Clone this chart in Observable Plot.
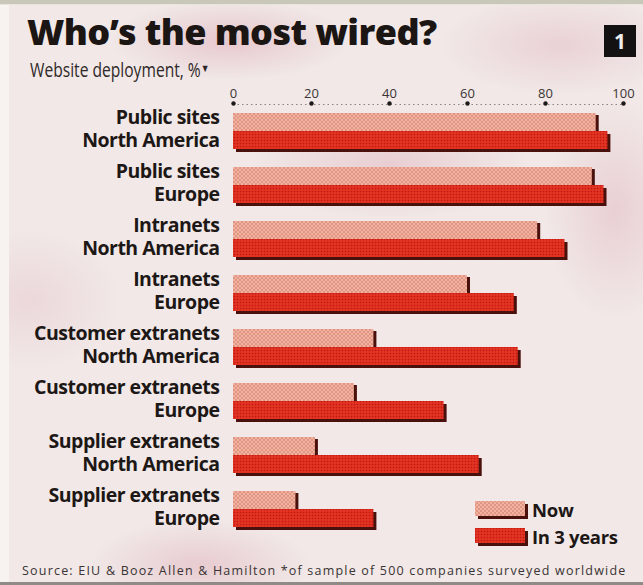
<!DOCTYPE html>
<html>
<head>
<meta charset="utf-8">
<script src="https://cdn.jsdelivr.net/npm/d3@7"></script>
<script src="https://cdn.jsdelivr.net/npm/@observablehq/plot@0.6"></script>
<style>
  html, body { margin: 0; padding: 0; }
  body { width: 643px; height: 585px; overflow: hidden; }
  #page {
    position: relative; width: 643px; height: 585px; overflow: hidden;
    background-color: #f1e8e7;
    background-image:
      radial-gradient(ellipse 120px 40px at 230px 40px, rgba(214,150,165,0.40), rgba(214,150,165,0) 100%),
      radial-gradient(ellipse 140px 55px at 390px 165px, rgba(214,150,165,0.32), rgba(214,150,165,0) 100%),
      radial-gradient(ellipse 70px 110px at 615px 210px, rgba(214,150,165,0.30), rgba(214,150,165,0) 100%),
      radial-gradient(ellipse 110px 45px at 200px 565px, rgba(214,150,165,0.35), rgba(214,150,165,0) 100%),
      radial-gradient(ellipse 90px 70px at 30px 300px, rgba(214,150,165,0.20), rgba(214,150,165,0) 100%),
      radial-gradient(ellipse 120px 50px at 560px 45px, rgba(214,150,165,0.28), rgba(214,150,165,0) 100%);
    font-family: "Open Sans", sans-serif;
  }
  #topstrip { position: absolute; left: 0; top: 0; width: 643px; height: 4px; background: #c9c8b8; border-bottom: 1px solid #e8e6dc; }
  #leftstrip { position: absolute; left: 0; top: 5px; width: 9px; height: 580px; background: #f6f3f1; }
  #bottomstrip { position: absolute; left: 0; top: 582px; width: 643px; height: 3px; background: #8f8a86; }
  #title { position: absolute; left: 27px; top: 14px; font-size: 36px; font-weight: 800; color: #1b1514; letter-spacing: -0.6px; line-height: 1; white-space: nowrap; }
  #subtitle { position: absolute; left: 30px; top: 60px; font-size: 19.5px; font-weight: 400; color: #2e2828; line-height: 1; white-space: nowrap; transform: scaleX(0.8); transform-origin: 0 0; }
  #subtitle .tri { font-size: 11px; vertical-align: 5px; }
  #badge { position: absolute; left: 604px; top: 25px; width: 32px; height: 32px; background: #141112; color: #eeeeee; font-weight: 700; font-size: 21px; line-height: 32px; text-align: center; }
  #chart { position: absolute; left: 0; top: 80px; }
  .legend { position: absolute; left: 475px; height: 19px; display: flex; align-items: center; }
  .legend svg { display: block; }
  .legend span { margin-left: 3px; font-size: 18.5px; font-weight: 700; color: #1d1716; letter-spacing: -0.3px; line-height: 1; }
  #source { position: absolute; left: 22px; top: 565px; font-size: 12.5px; color: #3a3434; white-space: nowrap; letter-spacing: 1.2px; line-height: 1; }
</style>
</head>
<body>
<svg width="0" height="0" style="position:absolute">
  <defs>
    <pattern id="hatchNow" width="4" height="4" patternUnits="userSpaceOnUse">
      <rect width="4" height="4" fill="#f3b2a0"/>
      <path d="M0,0L4,4M4,0L0,4" stroke="#d9897a" stroke-width="0.7"/>
    </pattern>
    <pattern id="dotRed" width="3" height="3" patternUnits="userSpaceOnUse">
      <rect width="3" height="3" fill="#dd2c1d"/>
      <rect width="1" height="1" fill="#bd1a10"/>
      <rect x="1.5" y="1.5" width="1" height="1" fill="#e94a36"/>
    </pattern>
  </defs>
</svg>
<div id="page">
  <div id="topstrip"></div>
  <div id="leftstrip"></div>
  <div id="title">Who’s the most wired?</div>
  <div id="subtitle">Website deployment, %<span class="tri">▼</span></div>
  <div id="badge">1</div>
  <div id="chart"></div>
  <div class="legend" style="top:501px">
    <svg width="54" height="19"><rect x="3" y="3" width="50" height="15" fill="#4a100c"/><rect x="0" y="0" width="50" height="15" fill="url(#hatchNow)"/></svg>
    <span>Now</span>
  </div>
  <div class="legend" style="top:528px">
    <svg width="54" height="19"><rect x="3" y="3" width="50" height="15" fill="#4a100c"/><rect x="0" y="0" width="50" height="15" fill="url(#dotRed)"/></svg>
    <span>In 3 years</span>
  </div>
  <div id="source">Source: EIU &amp; Booz Allen &amp; Hamilton *of sample of 500 companies surveyed worldwide</div>
  <div id="bottomstrip"></div>
</div>
<script>
// ---- data ----
const categories = [
  "Public sites\nNorth America",
  "Public sites\nEurope",
  "Intranets\nNorth America",
  "Intranets\nEurope",
  "Customer extranets\nNorth America",
  "Customer extranets\nEurope",
  "Supplier extranets\nNorth America",
  "Supplier extranets\nEurope"
];
const seriesNames = ["Now", "In 3 years"];
const nowValues = [93, 92, 78, 60, 36, 31, 21, 16];
const in3YearsValues = [96, 95, 85, 72, 73, 54, 63, 36];
const xTicks = [0, 20, 40, 60, 80, 100];

// ---- table built from arrays ----
const nowRows = categories.map((c, i) => ({category: c, series: seriesNames[0], value: nowValues[i]}));
const in3Rows = categories.map((c, i) => ({category: c, series: seriesNames[1], value: in3YearsValues[i]}));

// ---- layout ----
const W = 643, H = 460;
const marginTop = 32, marginBottom = 12, marginLeft = 233, marginRight = 20;
const pInner = 0.337;
const rangeH = H - marginTop - marginBottom;
const step = rangeH / (categories.length - pInner);
const bw = step * (1 - pInner);
const half = bw / 2;
const shadow = "#4a100c";

const chart = Plot.plot({
  width: W,
  height: H,
  marginTop, marginBottom, marginLeft, marginRight,
  style: {background: "transparent", fontFamily: "'Open Sans', sans-serif", overflow: "visible"},
  x: {domain: [0, 100], label: null},
  y: {domain: categories, paddingInner: pInner, paddingOuter: 0, label: null},
  color: {type: "ordinal", domain: seriesNames, range: ["url(#hatchNow)", "url(#dotRed)"]},
  marks: [
    Plot.ruleY([categories[0]], {y: d => d, x1: 0, x2: 100, dy: -half - 9, stroke: "#8a8282", strokeWidth: 1, strokeDasharray: "1.5,3"}),
    Plot.dot(xTicks, {x: d => d, frameAnchor: "top", dy: -9, r: 2.2, fill: "#1e1a1a", stroke: "none"}),
    Plot.axisX({anchor: "top", ticks: xTicks, tickSize: 0, tickPadding: 15, fontSize: 13, fill: "#3b3535", label: null}),
    Plot.axisY({tickSize: 0, tickPadding: 14, fontSize: 19.5, fontWeight: 700, fill: "#1d1716", lineHeight: 1.16, dy: -3, label: null}),
    // Now bars: shadow then fill
    Plot.barX(nowRows, {y: "category", x: "value", insetBottom: half, dx: 3, dy: 2, fill: shadow}),
    Plot.barX(nowRows, {y: "category", x: "value", insetBottom: half, fill: "series"}),
    // In 3 years bars: shadow then fill
    Plot.barX(in3Rows, {y: "category", x: "value", insetTop: half, dx: 3, dy: 3, fill: shadow}),
    Plot.barX(in3Rows, {y: "category", x: "value", insetTop: half, fill: "series"})
  ]
});
// tighter letter-spacing for y-axis labels
chart.querySelectorAll("g[aria-label='y-axis tick label'] text").forEach(t => t.style.letterSpacing = "-0.5px");
document.getElementById("chart").appendChild(chart);
</script>
</body>
</html>
